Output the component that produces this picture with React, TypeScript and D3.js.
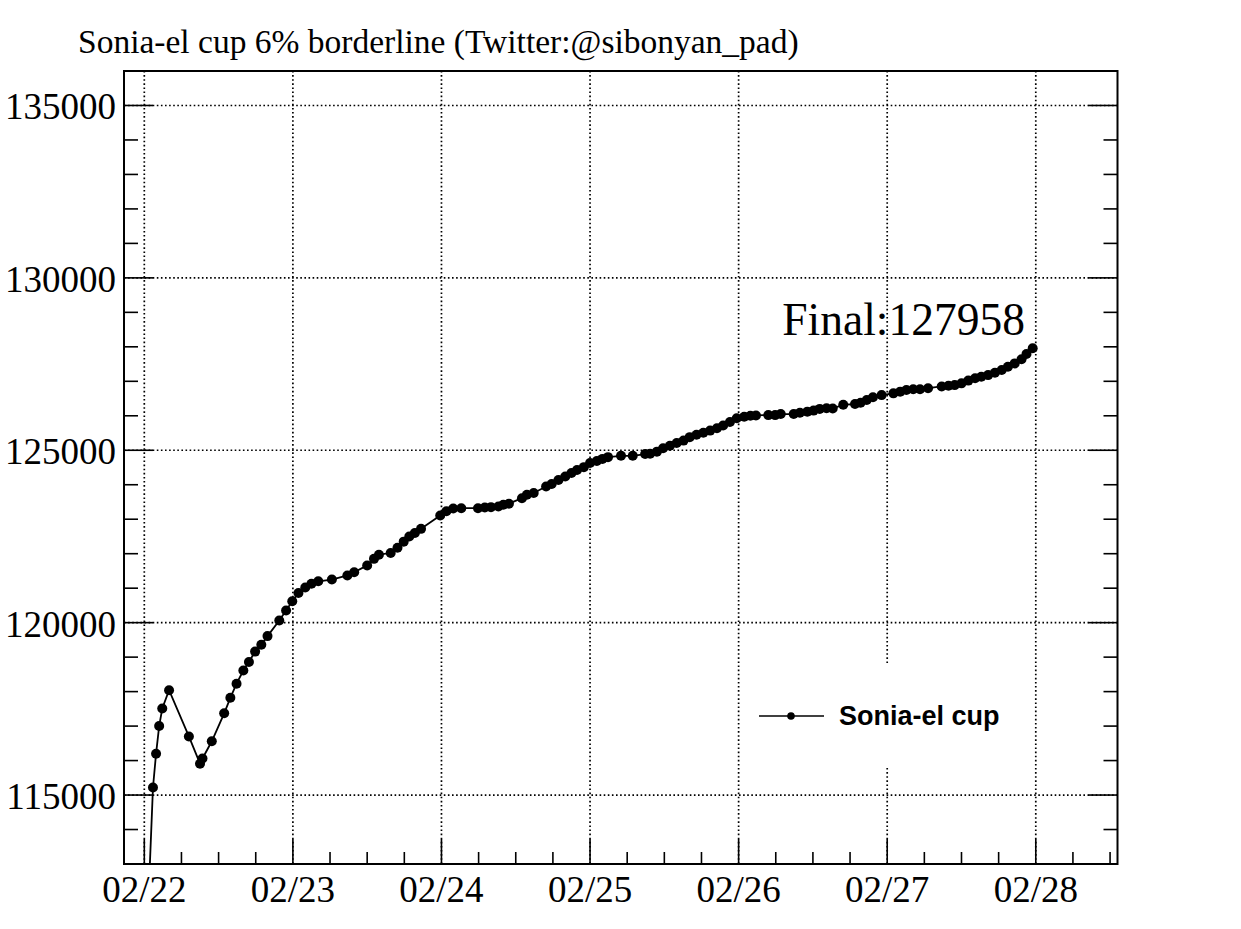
import * as d3 from 'd3'

// hours since 02/22 00:00 and the border value at that time
const hours = [
  0, 1.4, 1.9, 2.4, 2.9, 4.0, 7.2, 9.0, 9.4, 10.9, 12.9, 13.9, 14.9, 16.0, 16.9, 17.9, 18.9, 19.9,
  21.8, 22.9, 23.9, 24.9, 26.0, 27.0, 28.1, 30.3, 32.8, 33.9, 36.0, 37.1, 37.9, 39.8, 40.9, 41.9,
  42.8, 43.7, 44.7, 47.8, 48.8, 49.9, 51.2, 53.9, 55.0, 56.0, 57.2, 58.0, 58.9, 61.0, 61.8, 62.9,
  64.9, 65.8, 66.9, 68.0, 69.0, 69.9, 71.0, 72.0, 73.1, 74.0, 74.9, 77.0, 78.9, 80.9, 81.7, 82.8,
  83.8, 84.9, 86.0, 87.1, 88.1, 89.2, 90.3, 91.4, 92.5, 93.5, 94.6, 95.7, 96.9, 97.9, 98.8, 100.8,
  101.9, 102.8, 104.9, 105.9, 107.1, 108.1, 109.1, 110.2, 111.2, 112.9, 114.8, 115.7, 116.7, 117.7,
  119.1, 121.0, 122.1, 123.1, 124.2, 125.3, 126.6, 128.8, 129.9, 130.9, 132.0, 133.1, 134.2, 135.2,
  136.3, 137.4, 138.5, 139.5, 140.6, 141.7, 142.5, 143.5
]
const borderValues = [
  109000, 115220, 116200, 117000, 117510, 118040, 116700, 115910, 116060, 116560, 117370, 117820,
  118230, 118610, 118860, 119160, 119360, 119610, 120060, 120350, 120620, 120860, 121020, 121130,
  121200, 121250, 121370, 121460, 121660, 121850, 121970, 122020, 122170, 122350, 122500, 122600,
  122720, 123110, 123230, 123310, 123320, 123320, 123340, 123350, 123370, 123420, 123450, 123610,
  123710, 123760, 123950, 124020, 124140, 124240, 124340, 124430, 124510, 124630, 124690, 124750,
  124800, 124840, 124840, 124890, 124900, 124960, 125060, 125130, 125210, 125280, 125380, 125450,
  125510, 125570, 125640, 125720, 125820, 125930, 125970, 126000, 126010, 126020, 126020, 126050,
  126050, 126090, 126120, 126150, 126200, 126220, 126210, 126320, 126340, 126380, 126460, 126540,
  126600, 126650, 126700, 126750, 126770, 126770, 126800, 126850, 126870, 126890, 126940, 127020,
  127090, 127130, 127180, 127250, 127330, 127420, 127520, 127640, 127790, 127958
]
const dayLabels = ['02/22', '02/23', '02/24', '02/25', '02/26', '02/27', '02/28']
const yTickValues = [115000, 120000, 125000, 130000, 135000]
const seriesName = 'Sonia-el cup'
const finalValue = 127958

const W = 1241
const H = 929
const frame = { left: 124, right: 1117.5, top: 71, bottom: 864 }
const serif = '"Liberation Serif", "Times New Roman", serif'
const sans = '"Liberation Sans", Arial, sans-serif'

export default function App() {
  const x = d3.scaleLinear().domain([-3.28, 157.2]).range([frame.left, frame.right])
  const y = d3.scaleLinear().domain([113000, 136000]).range([frame.bottom, frame.top])

  const data = hours.map((h, i) => ({ h, v: borderValues[i] }))
  const line = d3
    .line<{ h: number; v: number }>()
    .x(d => x(d.h))
    .y(d => y(d.v))

  const dayTicks = dayLabels.map((_, i) => i * 24)
  const minorX = d3.range(0, 157, 6).filter(h => h % 24 !== 0)
  const minorY = d3.range(113000, 136001, 1000).filter(v => v % 5000 !== 0)

  const dot = '1.6 2.5'

  return (
    <div style={{ position: 'absolute', left: 0, top: 0 }}>
      <svg width={W} height={H} style={{ display: 'block', background: '#fff' }}>
        <defs>
          <clipPath id="frameClip">
            <rect x={frame.left} y={frame.top} width={frame.right - frame.left} height={frame.bottom - frame.top} />
          </clipPath>
        </defs>

        {/* title */}
        <text x={78} y={53} fontFamily={serif} fontSize={33.5} fill="#000">
          Sonia-el cup 6% borderline (Twitter:@sibonyan_pad)
        </text>

        {/* grid */}
        <g stroke="#000" strokeWidth={1.7} strokeDasharray={dot}>
          {dayTicks.map(h => (
            <line key={'gx' + h} x1={x(h)} x2={x(h)} y1={frame.top} y2={frame.bottom} />
          ))}
          {yTickValues.map(v => (
            <line key={'gy' + v} x1={frame.left} x2={frame.right} y1={y(v)} y2={y(v)} />
          ))}
        </g>

        {/* legend box covers grid */}
        <rect x={748} y={663} width={280} height={103} fill="#fff" />

        {/* series */}
        <g clipPath="url(#frameClip)">
          <path d={line(data) ?? ''} fill="none" stroke="#000" strokeWidth={1.8} />
          {data.map((d, i) => (
            <circle key={i} cx={x(d.h)} cy={y(d.v)} r={5} fill="#000" />
          ))}
        </g>

        {/* ticks */}
        <g stroke="#000" strokeWidth={1.6}>
          {dayTicks.map(h => (
            <line key={'tx' + h} x1={x(h)} x2={x(h)} y1={frame.bottom} y2={frame.bottom - 25} />
          ))}
          {minorX.map(h => (
            <line key={'mx' + h} x1={x(h)} x2={x(h)} y1={frame.bottom} y2={frame.bottom - 12} />
          ))}
          {yTickValues.map(v => (
            <g key={'ty' + v}>
              <line x1={frame.left} x2={frame.left + 29} y1={y(v)} y2={y(v)} />
              <line x1={frame.right} x2={frame.right - 29} y1={y(v)} y2={y(v)} />
            </g>
          ))}
          {minorY.map(v => (
            <g key={'my' + v}>
              <line x1={frame.left} x2={frame.left + 14} y1={y(v)} y2={y(v)} />
              <line x1={frame.right} x2={frame.right - 14} y1={y(v)} y2={y(v)} />
            </g>
          ))}
        </g>

        {/* frame */}
        <rect
          x={frame.left}
          y={frame.top}
          width={frame.right - frame.left}
          height={frame.bottom - frame.top}
          fill="none"
          stroke="#000"
          strokeWidth={2}
        />

        {/* tick labels */}
        <g fontFamily={serif} fontSize={37} fill="#000">
          {yTickValues.map(v => (
            <text key={'ly' + v} x={116} y={y(v) + 14} textAnchor="end">
              {v}
            </text>
          ))}
          {dayLabels.map((lab, i) => (
            <text key={lab} x={x(i * 24)} y={902} textAnchor="middle">
              {lab}
            </text>
          ))}
        </g>

        {/* final label */}
        <text x={1025} y={335} textAnchor="end" fontFamily={serif} fontSize={45.5} fill="#000">
          {'Final:' + finalValue}
        </text>

        {/* legend */}
        <line x1={759} x2={824} y1={716} y2={716} stroke="#000" strokeWidth={1.6} />
        <circle cx={791} cy={716} r={3.8} fill="#000" />
        <text x={839} y={725} fontFamily={sans} fontWeight="bold" fontSize={27} fill="#000">
          {seriesName}
        </text>
      </svg>
    </div>
  )
}
